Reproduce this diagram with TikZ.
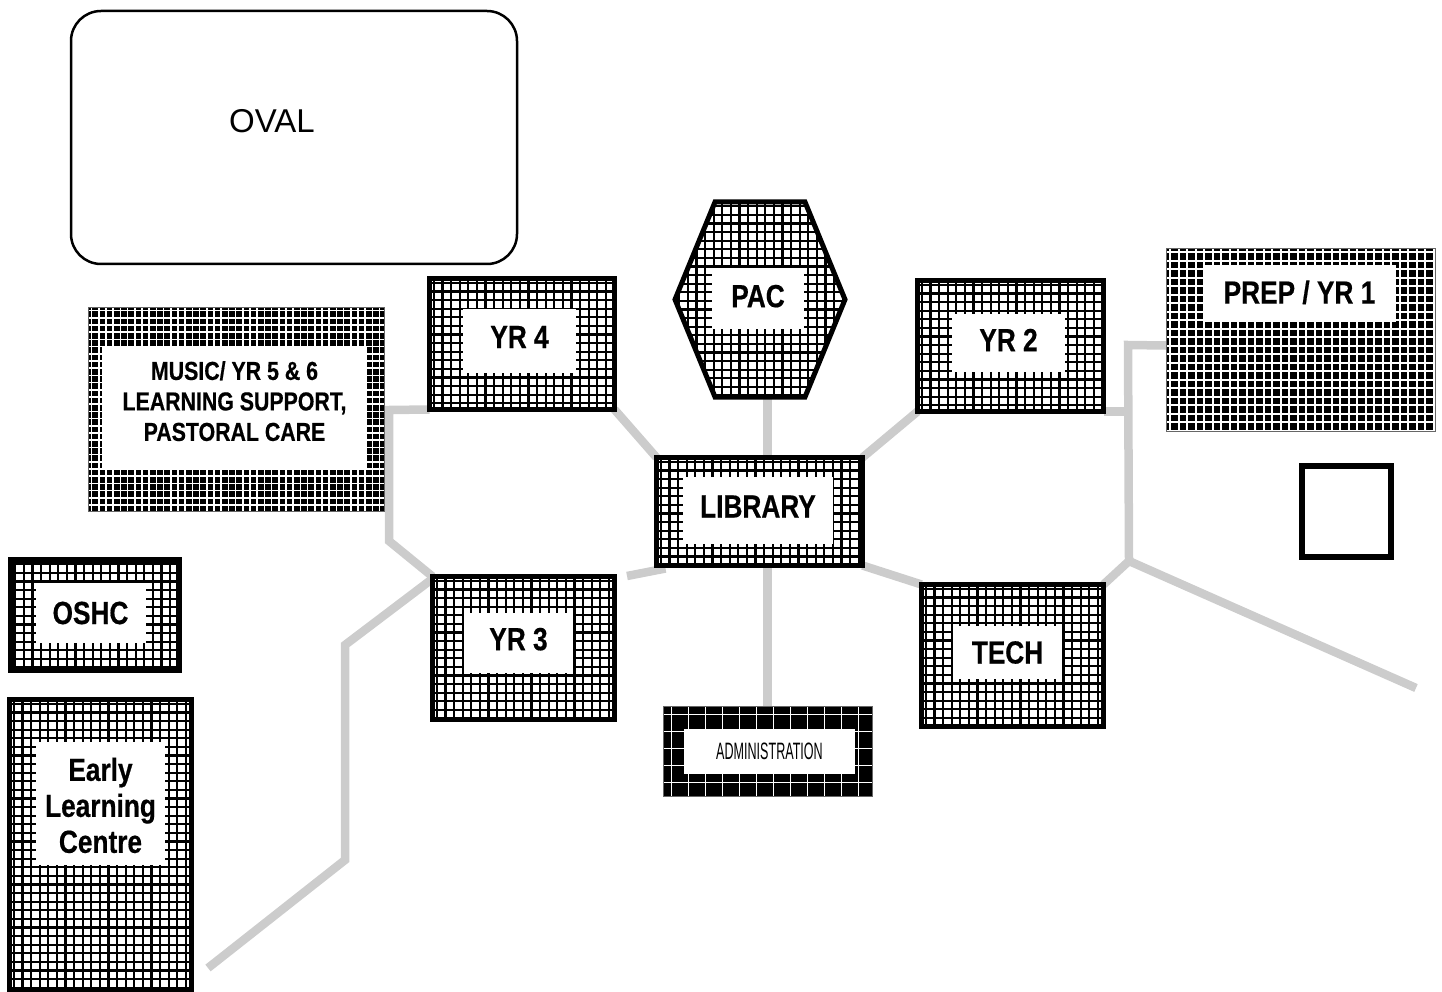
\documentclass[tikz,border=0pt]{standalone}
\usepackage{fontspec}
\setmainfont{Liberation Sans}
\newfontfamily\bldgfont[FakeStretch=0.82,BoldFeatures={FakeBold=0.5}]{Liberation Sans}
\newfontfamily\thinfont[FakeStretch=0.53]{Liberation Sans}
\usetikzlibrary{backgrounds}
\tikzset{
    gridlines/.style n args={3}{path picture={
        \foreach \i in {0,...,46} {
            \draw[#3, line width=#2] ([xshift=\i*#1 pt+#1 pt/2]path picture bounding box.south west) -- ([xshift=\i*#1 pt+#1 pt/2]path picture bounding box.north west);
            \draw[#3, line width=#2] ([yshift=-\i*#1 pt-#1 pt/2]path picture bounding box.north west) -- ([yshift=-\i*#1 pt-#1 pt/2]path picture bounding box.north east);
        }
    }},
    bldg/.style={draw=black, line width=5pt, fill=white, outer sep=0pt, inner sep=0pt, gridlines={8.6}{2.2pt}{black}},
    darkbldg/.style={fill=black, draw=black!60, line width=0.6pt, outer sep=0pt, inner sep=0pt},
    lbl/.style={fill=white, draw=none, inner sep=0pt, outer sep=0pt, align=center, font=\bldgfont\bfseries\fontsize{32}{36}\selectfont},
    path link/.style={draw=linkgray, line width=8.5pt}
}
\definecolor{linkgray}{RGB}{204,204,204}
\begin{document}
\begin{tikzpicture}[x=1pt,y=-1pt]
    \useasboundingbox (0,0) rectangle (1442,992);

    % oval and empty square
    \node[draw, line width=2.5pt, rounded corners=30pt, minimum width=446, minimum height=253, outer sep=0pt] (oval) at (294,137.5) {};
    \node[font=\fontsize{33}{36}\selectfont, inner sep=0pt] (ovaltxt) at (272,121) {OVAL};
    \node[draw, line width=5.5pt, minimum width=89, minimum height=91] (shed) at (1346.5,511.5) {};

    % buildings
    \node[bldg, minimum width=185, minimum height=131] (yr4) at (522,344) {};
    \node[bldg, minimum width=186, minimum height=131] (yr2) at (1010.5,346) {};
    \node[bldg, minimum width=206, minimum height=108] (lib) at (759.5,511.5) {};
    \node[bldg, minimum width=182, minimum height=142] (tech) at (1012.5,655.5) {};
    \node[bldg, minimum width=182, minimum height=143] (yr3) at (523.5,648) {};
    \node[bldg, line width=6pt, minimum width=168, minimum height=110] (oshc) at (95,615) {};
    \node[bldg, minimum width=182, minimum height=290] (elc) at (100.5,844.5) {};
    \node[darkbldg, gridlines={7.2}{1.6pt}{white}, minimum width=296, minimum height=204] (music) at (236,409) {};
    \node[darkbldg, gridlines={8.5}{1.6pt}{white}, minimum width=269, minimum height=183] (prep) at (1300.5,339.5) {};
    \node[darkbldg, gridlines={17}{1.8pt}{white}, minimum width=209, minimum height=90] (admin) at (767.5,751) {};

    % hexagon
    \node[minimum width=170, minimum height=195, inner sep=0pt, outer sep=0pt] (pac) at (760,299.5) {};
    \draw[bldg] (pac.west) -- ([xshift=40pt]pac.north west) -- ([xshift=-40pt]pac.north east)
        -- (pac.east) -- ([xshift=-40pt]pac.south east) -- ([xshift=40pt]pac.south west) -- cycle;

    % labels
    \node[lbl, minimum width=113, minimum height=64, text depth=8pt] (yr4txt) at (519.5,341) {YR 4};
    \node[lbl, minimum width=113, minimum height=58, text depth=6pt] (yr2txt) at (1008.5,343) {YR 2};
    \node[lbl, minimum width=150, minimum height=67, text depth=8pt] (libtxt) at (758,510.5) {LIBRARY};
    \node[lbl, minimum width=109, minimum height=53] (techtxt) at (1007.5,652.5) {TECH};
    \node[lbl, minimum width=109, minimum height=60, text depth=8pt] (yr3txt) at (518.5,643) {YR 3};
    \node[lbl, minimum width=92, minimum height=61, text depth=5pt] (pactxt) at (758,298.5) {PAC};
    \node[lbl, minimum width=110, minimum height=60] (oshctxt) at (90.5,613) {OSHC};
    \node[lbl, minimum width=129, minimum height=123] (elctxt) at (100.5,803.5) {\rule{0pt}{27pt}Early\\Learning\\Centre};
    \node[lbl, minimum width=193, minimum height=57, text depth=3pt] (preptxt) at (1299.5,293.5) {PREP / YR 1};
    \node[lbl, minimum width=265, minimum height=122, text depth=14pt, font=\bldgfont\bfseries\fontsize{26}{30.5}\selectfont] (musictxt) at (234.5,408) {MUSIC/ YR 5 \& 6\\LEARNING SUPPORT,\\PASTORAL CARE};
    \node[lbl, minimum width=171, minimum height=45, font=\thinfont\fontsize{23.7}{26}\selectfont] (admintxt) at (769.5,751.5) {ADMINISTRATION};

    % paths
    \coordinate (wtop) at (389,410);
    \coordinate (wbend) at (389,541);
    \coordinate (wjog) at (345,645);
    \coordinate (wlow) at (345,860);
    \coordinate (wend) at (208,968);
    \coordinate (etop) at (1128,345);
    \coordinate (ejct) at (1129,561);
    \coordinate (eend) at (1416,688);
    \coordinate (y3end) at (627,576);
    \begin{scope}[on background layer]
        \draw[path link] (yr4.south east) -- (lib.north west);
        \draw[path link] (yr2.south west) -- (lib.north east);
        \draw[path link] (pac.south -| admin.north) -- (lib.north -| admin.north);
        \draw[path link] (lib.south -| admin.north) -- (admin.north);
        \draw[path link] ([shift={(9,3)}]lib.south west) -- (y3end);
        \draw[path link] (lib.south east) -- (tech.north west);
        \draw[path link] (yr4.south west) -- (wtop) -- (wbend) -- (yr3.north west);
        \draw[path link] ([shift={(-1,3)}]yr3.north west) -- (wjog) -- (wlow) -- (wend);
        \draw[path link] (yr2.south east) -- (yr2.south east -| etop);
        \draw[path link] ([yshift=-6pt]prep.west) -- (etop) -- (ejct) -- (tech.north east);
        \draw[path link] (ejct) -- (eend);
    \end{scope}
\end{tikzpicture}
\end{document}
